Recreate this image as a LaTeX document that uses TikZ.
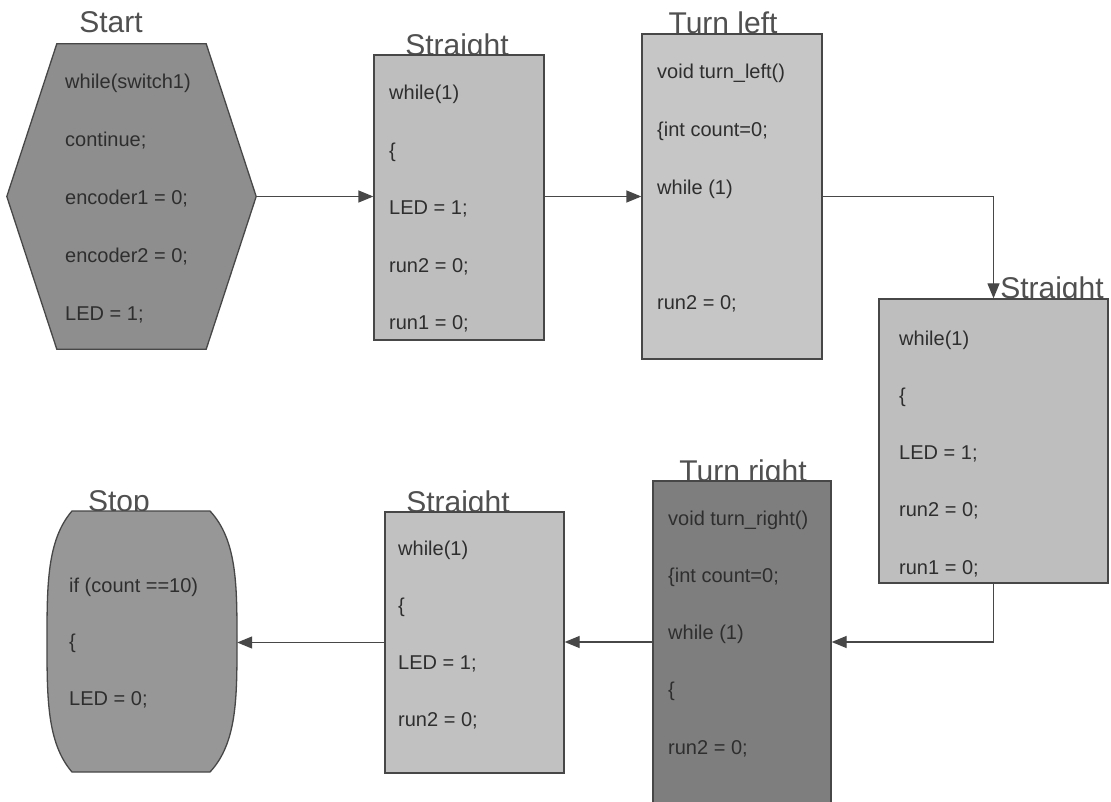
\documentclass[tikz,border=0pt]{standalone}
\usepackage{fontspec}
\setmainfont{Liberation Sans}
\usetikzlibrary{arrows.meta}
\definecolor{linec}{HTML}{474747}
\definecolor{labc}{HTML}{505050}
\definecolor{codec}{HTML}{2E2E2E}
\definecolor{startc}{HTML}{8E8E8E}
\definecolor{lightc}{HTML}{BEBEBE}
\definecolor{tleftc}{HTML}{C6C6C6}
\definecolor{trightc}{HTML}{7E7E7E}
\definecolor{stopc}{HTML}{979797}
\begin{document}
\begin{tikzpicture}[x=1pt,y=-1pt,
  lab/.style={anchor=base, inner sep=0pt, text=labc, font=\fontsize{30}{32}\selectfont},
  code/.style={anchor=base west, inner sep=0pt, text=codec, font=\fontsize{20}{22}\selectfont},
  boxs/.style={draw=linec, line width=1.3pt, rectangle, inner sep=0pt},
  ghost/.style={rectangle, inner sep=0pt},
  shapeline/.style={draw=linec, line width=1.3pt},
  arr/.style={draw=linec, line width=1.3pt, -{Triangle[length=15pt,width=12pt]}}]
\useasboundingbox (0,0) rectangle (1111,802);
\fill[white] (0,0) rectangle (1111,802);

% labels (drawn first, shapes cover descenders)
\node[lab] (lstart) at (111,33) {Start};
\node[lab] (ls1) at (457,56) {Straight};
\node[lab] (ltl) at (723,34) {Turn left};
\node[lab] (ls2) at (1052,299) {Straight};
\node[lab] (ltr) at (743,481) {Turn right};
\node[lab] (ls3) at (458,512) {Straight};
\node[lab] (lstop) at (119,511) {Stop};

% shapes
\node[ghost, minimum width=249pt, minimum height=305pt] (start) at (131.5,196.5) {};
\draw[shapeline, fill=startc] (start.west) -- ([xshift=50pt]start.north west) -- ([xshift=-50pt]start.north east) -- (start.east) -- ([xshift=-50pt]start.south east) -- ([xshift=50pt]start.south west) -- cycle;

\node[boxs, fill=lightc, minimum width=170pt, minimum height=285pt] (s1) at (459,197.5) {};
\node[boxs, fill=tleftc, minimum width=180pt, minimum height=325pt] (tl) at (732,196.5) {};
\node[boxs, fill=lightc, minimum width=229pt, minimum height=284pt] (s2) at (993.5,441) {};
\node[boxs, fill=trightc, minimum width=178pt, minimum height=322pt] (tr) at (742,642) {};
\node[boxs, fill=lightc!95!white, minimum width=179pt, minimum height=261pt] (s3) at (474.5,642.5) {};

\node[ghost, minimum width=190pt, minimum height=261pt] (stop) at (142,641.5) {};
\draw[shapeline, fill=stopc] (72,511) -- (210,511)
  .. controls (237,540) and (237,585) .. (237,641.5)
  .. controls (237,698) and (237,743) .. (210,772)
  -- (72,772)
  .. controls (47,743) and (47,698) .. (47,641.5)
  .. controls (47,585) and (47,540) .. (72,511) -- cycle;

% code text
\foreach \t [count=\i] in {while(switch1), continue;, encoder1 = 0;, encoder2 = 0;, LED = 1;}
  \node[code] (ta\i) at (65,{89+57.75*(\i-1)}) {\t};
\foreach \t [count=\i] in {while(1), \{, LED = 1;, run2 = 0;, run1 = 0;}
  \node[code] (tb\i) at (389,{100+57.5*(\i-1)}) {\t};
\node[code] (tc1) at (657,79) {void turn\_left()};
\node[code] (tc2) at (657,137) {\{int count=0;};
\node[code] (tc3) at (657,195) {while (1)};
\node[code] (tc4) at (657,310) {run2 = 0;};
\foreach \t [count=\i] in {while(1), \{, LED = 1;, run2 = 0;, run1 = 0;}
  \node[code] (td\i) at (899,{345+57.25*(\i-1)}) {\t};
\foreach \t [count=\i] in {void turn\_right(), \{int count=0;, while (1), \{, run2 = 0;}
  \node[code] (te\i) at (668,{525+57.25*(\i-1)}) {\t};
\foreach \t [count=\i] in {while(1), \{, LED = 1;, run2 = 0;}
  \node[code] (tf\i) at (398,{555+57.3*(\i-1)}) {\t};
\foreach \t [count=\i] in {if (count ==10), \{, LED = 0;}
  \node[code] (tg\i) at (69,{592+56.5*(\i-1)}) {\t};

% connectors
\draw[arr] (start.east) -- (s1.west |- start.east);
\draw[arr] (s1.east |- tl.west) -- (tl.west);
\draw[arr] (tl.east) -| (s2.north);
\draw[arr] (s2.south) |- (tr.east);
\draw[arr] (tr.west) -- (s3.east |- tr.west);
\draw[arr] (s3.west) -- (stop.east |- s3.west);
\end{tikzpicture}
\end{document}
